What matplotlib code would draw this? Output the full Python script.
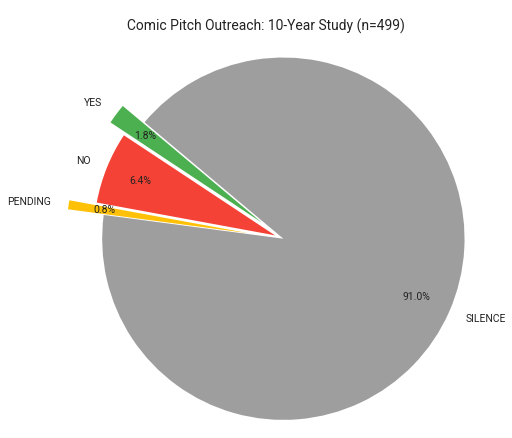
import matplotlib
matplotlib.use("Agg")
import matplotlib.pyplot as plt

plt.rcParams["font.family"] = ["Roboto", "DejaVu Sans"]

labels = ["YES", "NO", "PENDING", "SILENCE"]
counts = [9, 32, 4, 454]
colors = ["#4CAF50", "#F44336", "#FFC107", "#9E9E9E"]
explode = [0.15, 0.05, 0.2, 0.0]

fig, ax = plt.subplots(figsize=(5.12, 4.38), dpi=100)
wedges, texts, autotexts = ax.pie(
    counts, labels=labels, colors=colors, explode=explode,
    startangle=140, autopct="%1.1f%%", pctdistance=0.8,
    textprops={"fontsize": 7.5, "color": "#222222"},
)
ax.set_title("Comic Pitch Outreach: 10-Year Study (n=499)", fontsize=10, color="#222222")
ax.axis("equal")
fig.subplots_adjust(left=0.04, right=1.0, top=0.91, bottom=0.0)
fig.savefig("out.png")
